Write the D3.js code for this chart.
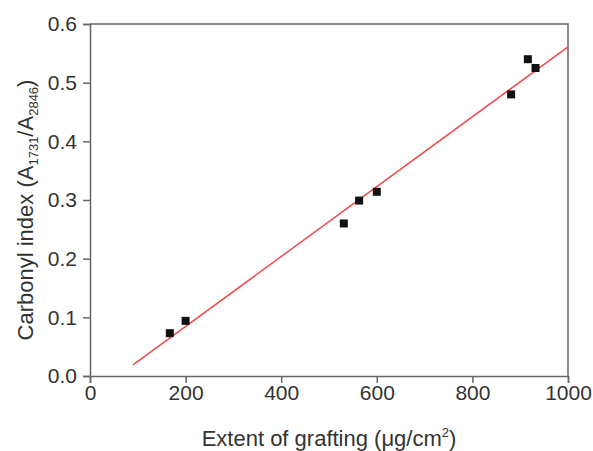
<!DOCTYPE html>
<html>
<head>
<meta charset="utf-8">
<script src="https://cdn.jsdelivr.net/npm/d3@7"></script>
<style>
  body { margin: 0; background: #fff; }
  text { font-family: "Liberation Sans", Arial, sans-serif; fill: #333; }
</style>
</head>
<body>
<script>
// measured points
const grafting = [167, 200, 531, 563, 600, 881, 916, 932];
const carbonyl = [0.073, 0.094, 0.260, 0.299, 0.314, 0.480, 0.540, 0.525];

// linear fit, end points
const fitX = [90, 1000];
const fitY = [0.019, 0.561];

const xTicks = [0, 200, 400, 600, 800, 1000];
const yTicks = [0.0, 0.1, 0.2, 0.3, 0.4, 0.5, 0.6];

const W = 593, H = 451;
const margin = { left: 90, right: 25, top: 24, bottom: 75 };

const svg = d3.select("body").append("svg").attr("width", W).attr("height", H);

const x = d3.scaleLinear().domain([0, 1000]).range([margin.left, W - margin.right]);
const y = d3.scaleLinear().domain([0, 0.6]).range([H - margin.bottom, margin.top]);

const axisCol = "#666";

// frame (top + right)
svg.append("path")
  .attr("d", `M${x(0)},${y(0.6)}H${x(1000)}V${y(0)}`)
  .attr("fill", "none").attr("stroke", axisCol).attr("stroke-width", 1.5);

// minor ticks then major ticks
const gx = svg.append("g").attr("transform", `translate(0,${y(0)})`);
gx.call(d3.axisBottom(x).tickValues(d3.range(100, 1000, 200)).tickSize(4).tickFormat(""));
gx.call(d3.axisBottom(x).tickValues(xTicks).tickSize(7).tickPadding(2).tickFormat(d3.format("d")));

const gy = svg.append("g").attr("transform", `translate(${x(0)},0)`);
gy.call(d3.axisLeft(y).tickValues(d3.range(0.05, 0.6, 0.1)).tickSize(4).tickFormat(""));
gy.call(d3.axisLeft(y).tickValues(yTicks).tickSize(7).tickPadding(6).tickFormat(d3.format(".1f")));

svg.selectAll(".domain, .tick line").attr("stroke", axisCol).attr("stroke-width", 1.5);
svg.selectAll(".tick text").style("font-size", "21px").attr("fill", "#333");

// fit line
svg.append("line")
  .attr("x1", x(fitX[0])).attr("y1", y(fitY[0]))
  .attr("x2", x(fitX[1])).attr("y2", y(fitY[1]))
  .attr("stroke", "#f04a4a").attr("stroke-width", 1.5);

// squares
const s = 8;
svg.selectAll("rect.pt").data(grafting).join("rect")
  .attr("class", "pt")
  .attr("x", (d) => x(d) - s / 2)
  .attr("y", (d, i) => y(carbonyl[i]) - s / 2)
  .attr("width", s).attr("height", s)
  .attr("fill", "#111");

// axis titles
const xl = svg.append("text")
  .attr("x", (x(0) + x(1000)) / 2).attr("y", 446)
  .attr("text-anchor", "middle").style("font-size", "22px");
xl.append("tspan").text("Extent of grafting (\u03bcg/cm");
xl.append("tspan").attr("dy", -9).style("font-size", "13px").text("2");
xl.append("tspan").attr("dy", 9).text(")");

const yl = svg.append("text")
  .attr("transform", `translate(33,${(y(0) + y(0.6)) / 2 + 10}) rotate(-90)`)
  .attr("text-anchor", "middle").style("font-size", "22px");
yl.append("tspan").text("Carbonyl index (A");
yl.append("tspan").attr("dy", 5).style("font-size", "13px").text("1731");
yl.append("tspan").attr("dy", -5).text("/A");
yl.append("tspan").attr("dy", 5).style("font-size", "13px").text("2846");
yl.append("tspan").attr("dy", -5).text(")");
</script>
</body>
</html>
